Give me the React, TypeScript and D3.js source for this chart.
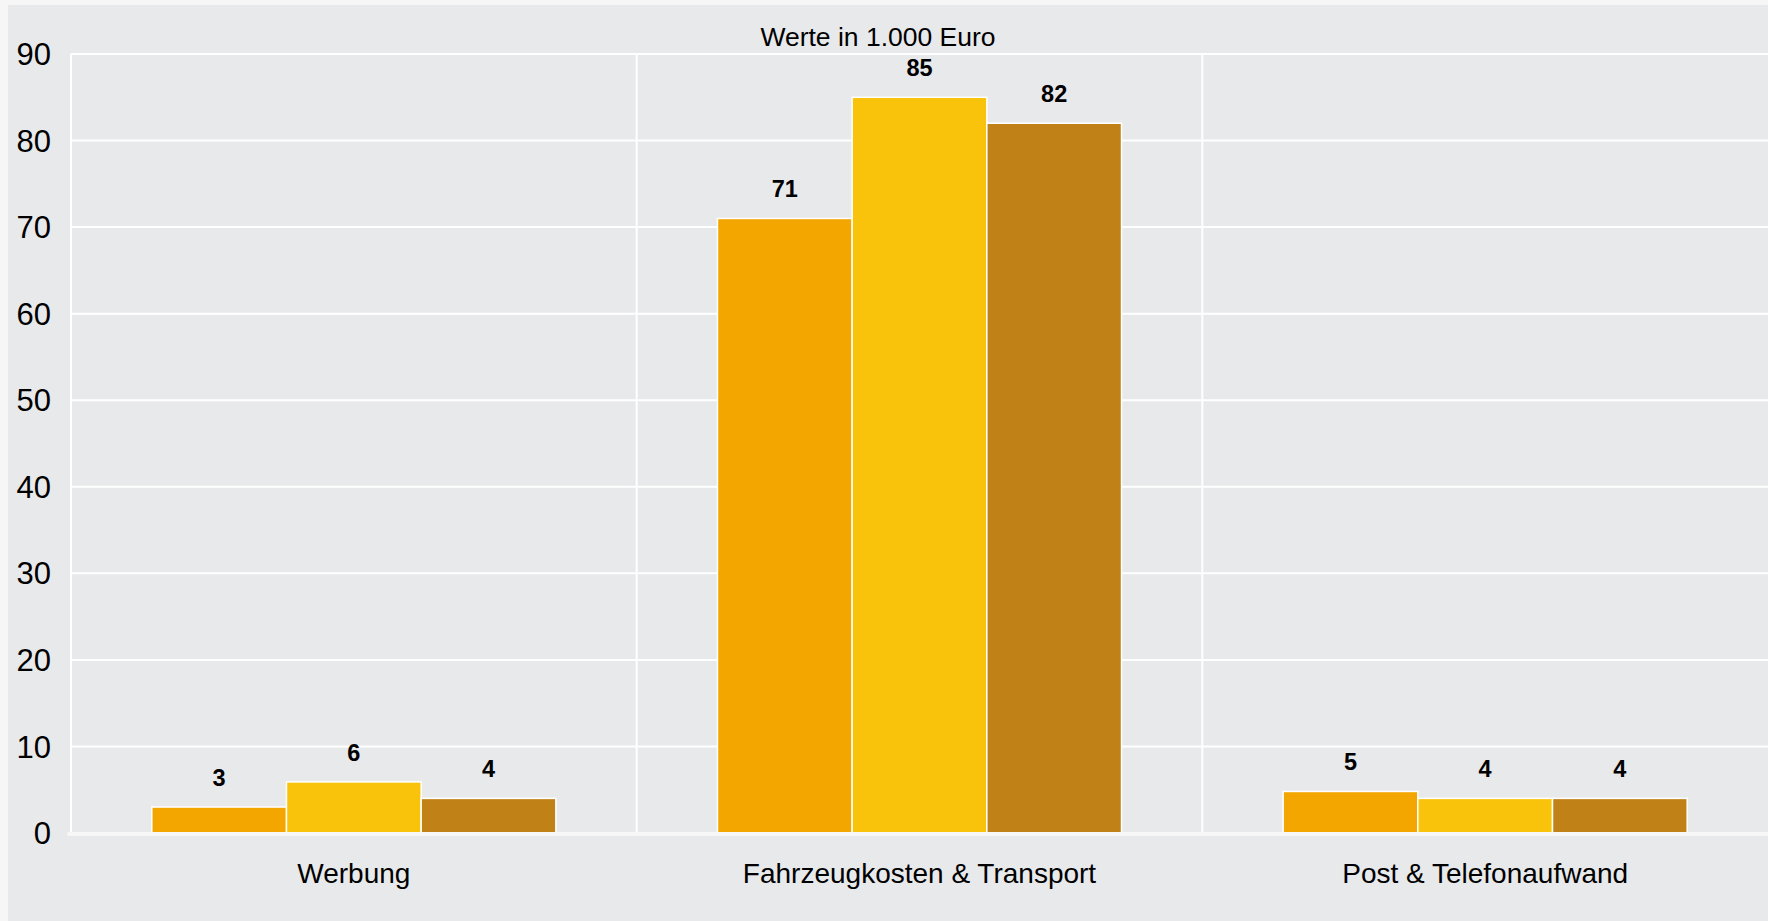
import { useMemo } from "react";
import * as d3 from "d3";

const WIDTH = 1768;
const HEIGHT = 921;
const MARGIN = { top: 54, right: 0, bottom: 88, left: 71 };
const FONT = "'Liberation Sans', Arial, Helvetica, sans-serif";

const categories = ["Werbung", "Fahrzeugkosten & Transport", "Post & Telefonaufwand"];
const series = ["s1", "s2", "s3"];
const werbung = [3, 5.9, 4];
const fahrzeug = [71, 85, 82];
const post = [4.8, 4, 4];
const colors = ["#F3A600", "#F9C30C", "#C08216"];
const yTicks = [0, 10, 20, 30, 40, 50, 60, 70, 80, 90];
const title = "Werte in 1.000 Euro";

const values = [werbung, fahrzeug, post];

export default function App() {
  const boundsWidth = WIDTH - MARGIN.left - MARGIN.right;
  const boundsHeight = HEIGHT - MARGIN.top - MARGIN.bottom;

  const xScale = useMemo(
    () => d3.scaleBand().domain(categories).range([0, boundsWidth]).padding(0),
    [boundsWidth]
  );

  const xSub = useMemo(
    () =>
      d3
        .scaleBand()
        .domain(series)
        .range([0, xScale.bandwidth()])
        .paddingInner(0)
        .paddingOuter(0.6),
    [xScale]
  );

  const yScale = useMemo(
    () => d3.scaleLinear().domain([0, 90]).range([boundsHeight, 0]),
    [boundsHeight]
  );

  const colorScale = d3.scaleOrdinal<string, string>().domain(series).range(colors);

  // vertical separators between the groups
  const vLines = categories.map((c, i) => {
    const x = xScale(c) ?? 0;
    return (
      <line
        key={i}
        x1={x}
        x2={x}
        y1={yScale(90)}
        y2={yScale(0)}
        stroke="#ffffff"
        strokeWidth={2}
      />
    );
  });

  const grid = yTicks.map((t) => (
    <g key={t}>
      {t > 0 && (
        <line
          x1={0}
          x2={boundsWidth}
          y1={yScale(t)}
          y2={yScale(t)}
          stroke="#ffffff"
          strokeWidth={2}
        />
      )}
      <text
        x={-20}
        y={yScale(t)}
        dy="0.36em"
        textAnchor="end"
        fontSize={31}
        fill="#000"
      >
        {t}
      </text>
    </g>
  ));

  const bars = categories.map((c, i) => (
    <g key={c} transform={`translate(${xScale(c)},0)`}>
      {series.map((s, j) => {
        const v = values[i][j];
        const x = xSub(s) ?? 0;
        return (
          <g key={s}>
            <rect
              x={x}
              y={yScale(v)}
              width={xSub.bandwidth()}
              height={yScale(0) - yScale(v)}
              fill={colorScale(s)}
              stroke="#ffffff"
              strokeWidth={1.5}
            />
            <text
              x={x + xSub.bandwidth() / 2}
              y={yScale(v) - 21}
              textAnchor="middle"
              fontSize={23.5}
              fontWeight="bold"
              fill="#000"
            >
              {Math.round(v)}
            </text>
          </g>
        );
      })}
      <text
        x={xScale.bandwidth() / 2}
        y={boundsHeight + 50}
        textAnchor="middle"
        fontSize={28}
        fill="#000"
      >
        {c}
      </text>
    </g>
  ));

  return (
    <svg
      width={WIDTH}
      height={HEIGHT}
      style={{ position: "absolute", left: 0, top: 0, fontFamily: FONT }}
    >
      <rect x={0} y={0} width={WIDTH} height={HEIGHT} fill="#f6f6f6" />
      <rect x={8} y={5} width={WIDTH - 8} height={HEIGHT - 5} fill="#e8e9eb" />
      <text x={878} y={46} textAnchor="middle" fontSize={26.5} fill="#000">
        {title}
      </text>
      <g transform={`translate(${MARGIN.left},${MARGIN.top})`}>
        {grid}
        {vLines}
        {bars}
        <line
          x1={-2}
          x2={boundsWidth}
          y1={yScale(0) + 1}
          y2={yScale(0) + 1}
          stroke="#f7f7f7"
          strokeWidth={4}
          strokeLinecap="round"
        />
      </g>
    </svg>
  );
}
